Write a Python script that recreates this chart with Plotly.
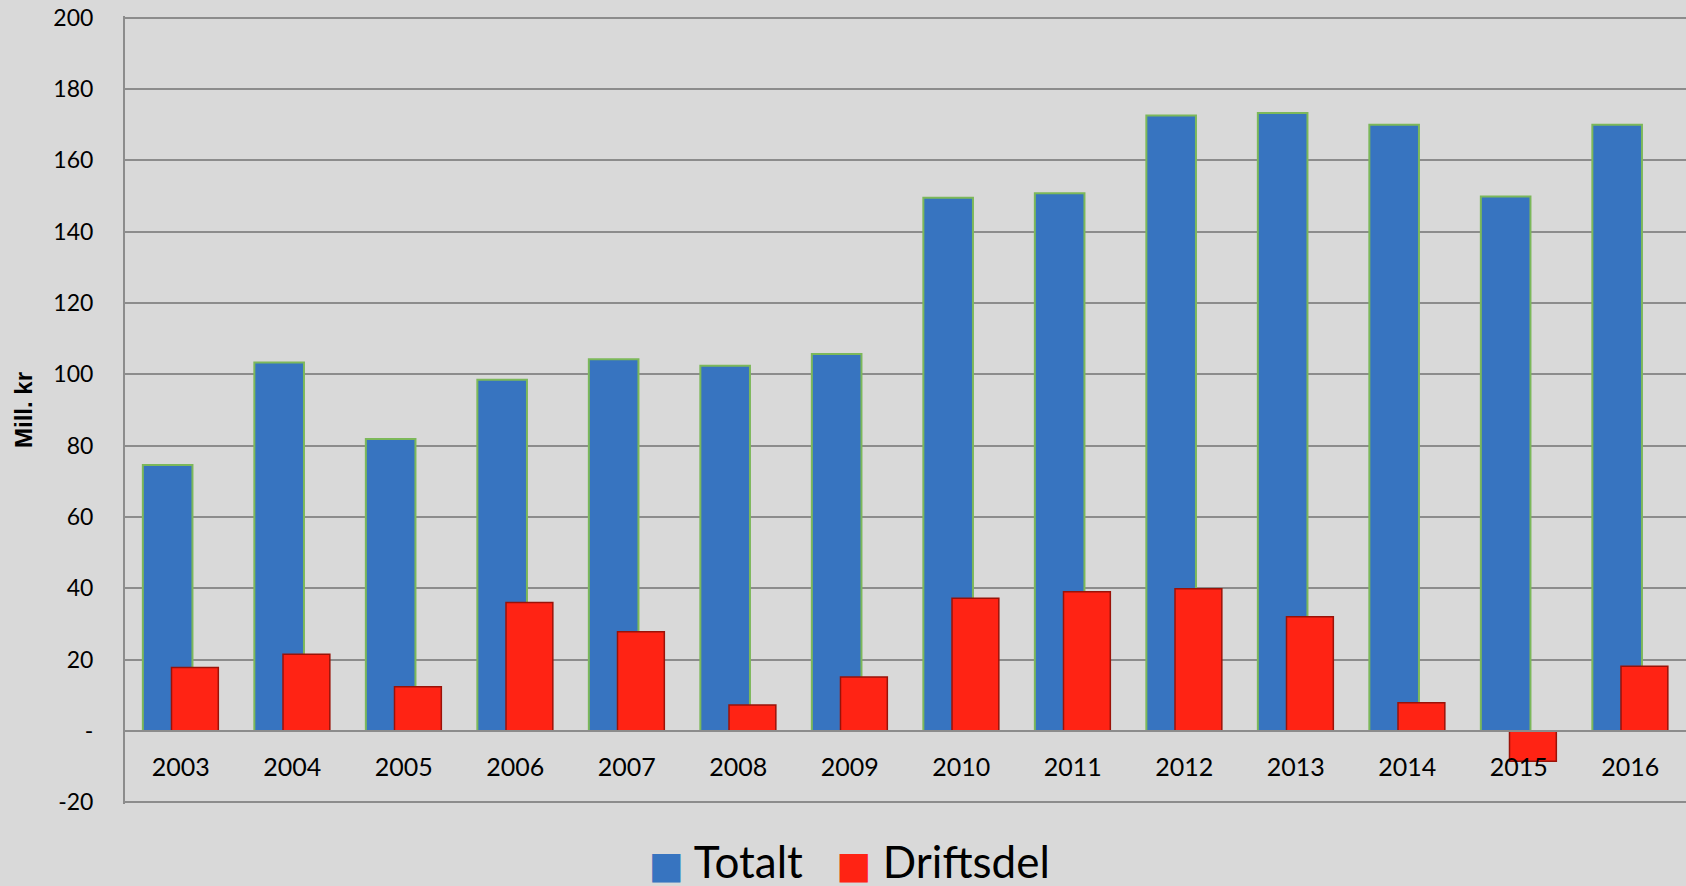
import plotly.graph_objects as go

years = ["2003", "2004", "2005", "2006", "2007", "2008", "2009",
         "2010", "2011", "2012", "2013", "2014", "2015", "2016"]
totalt = [74.6, 103.3, 81.9, 98.5, 104.2, 102.4, 105.7,
          149.5, 150.8, 172.6, 173.3, 170.0, 149.9, 170.0]
driftsdel = [17.8, 21.5, 12.4, 36.0, 27.8, 7.3, 15.1,
             37.2, 39.0, 39.9, 32.0, 7.9, -8.5, 18.1]
series_names = ["Totalt", "Driftsdel"]
y_ticks = [-20, 0, 20, 40, 60, 80, 100, 120, 140, 160, 180, 200]
y_ticktext = ["-20", "-", "20", "40", "60", "80", "100", "120", "140", "160", "180", "200"]

FONT = "Lato"
W, H = 1686, 886
L, R, T, B = 125, 0, 16, 82

BLUE = "#3774c0"
RED = "#ff2314"
Y_MIN, Y_MAX = -20.5, 200.5

fig = go.Figure()
fig.add_trace(go.Bar(
    x=years, y=totalt, name=series_names[0], showlegend=False,
    offset=-0.34, width=0.445,
    marker=dict(color=BLUE, line=dict(color="#7cb85a", width=2)),
))
fig.add_trace(go.Bar(
    x=years, y=driftsdel, name=series_names[1], showlegend=False,
    offset=-0.083, width=0.42,
    marker=dict(color=RED, line=dict(color="#9a1208", width=1.5)),
))
# legend: one entry holding both keys (large square glyphs as symbols)
GLYPH = '<span style="color:%s;font-family:DejaVu Sans;font-size:37px">■</span> %s'
legend_text = GLYPH % (BLUE, series_names[0]) + "\u00a0\u00a0\u00a0" + GLYPH % (RED, series_names[1])
fig.add_trace(go.Scatter(x=[None], y=[None], mode="none", name=legend_text, showlegend=True))

zero_pos = (0 - Y_MIN) / (Y_MAX - Y_MIN)

fig.update_layout(
    width=W, height=H,
    margin=dict(l=L, r=R, t=T, b=B, autoexpand=False),
    paper_bgcolor="#d9d9d9", plot_bgcolor="#d9d9d9",
    barmode="overlay",
    font=dict(family=FONT, color="#000000"),
    showlegend=True,
    legend=dict(orientation="h", x=0.310, xanchor="left", y=-0.072, yanchor="middle",
                font=dict(size=44, family=FONT), itemwidth=30,
                bgcolor="rgba(0,0,0,0)", traceorder="normal"),
    xaxis=dict(
        type="category", range=[-0.5, 13.5],
        anchor="free", position=zero_pos,
        showline=True, linecolor="#8c8c8c", linewidth=2,
        showgrid=False, ticks="", ticklen=0,
        tickfont=dict(size=25, family=FONT),
        ticklabelstandoff=14,
    ),
    yaxis=dict(
        range=[Y_MIN, Y_MAX], tickvals=y_ticks, ticktext=y_ticktext,
        showgrid=True, gridcolor="#8c8c8c", gridwidth=2,
        zeroline=False,
        showline=True, linecolor="#8c8c8c", linewidth=2,
        ticks="", tickfont=dict(size=23, family=FONT),
        ticklabelstandoff=25,
        title=dict(text="<b>Mill. kr</b>", font=dict(size=24, family="Liberation Sans"), standoff=14),
    ),
)

fig.write_html("out.html", config={"displayModeBar": False},
               post_script="document.body.style.margin='0px';")
